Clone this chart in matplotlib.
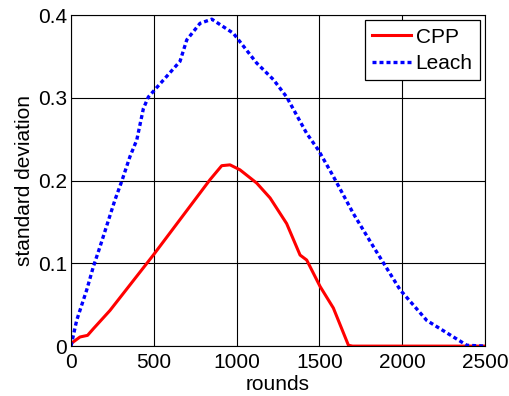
import numpy as np
import matplotlib
matplotlib.use("Agg")
import matplotlib.pyplot as plt

plt.rcParams['font.family'] = ['Liberation Sans', 'DejaVu Sans']

# CPP curve
cpp_x = [0, 54, 100, 135, 235, 497, 839, 910, 960, 1020, 1121, 1202, 1302, 1383, 1423, 1504, 1584, 1675, 1700, 2500]
cpp_y = [0.003, 0.011, 0.013, 0.021, 0.043, 0.110, 0.201, 0.218, 0.219, 0.213, 0.197, 0.179, 0.148, 0.110, 0.104, 0.072, 0.046, 0.001, 0.0, 0.0]

# Leach curve
leach_x = [0, 34, 95, 135, 175, 266, 306, 356, 397, 437, 467, 658, 699, 779, 850, 980,
           1121, 1222, 1302, 1423, 1493, 1584, 1705, 1826, 1987, 2148, 2390, 2500]
leach_y = [0.0, 0.031, 0.068, 0.096, 0.120, 0.177, 0.199, 0.229, 0.249, 0.287, 0.301, 0.344, 0.370, 0.390, 0.395, 0.378,
           0.342, 0.322, 0.301, 0.257, 0.237, 0.205, 0.160, 0.120, 0.068, 0.031, 0.001, 0.0]

fig = plt.figure(figsize=(5.09, 3.96), dpi=100)
ax = fig.add_axes([0.1395, 0.126, 0.8135, 0.836])

ax.plot(cpp_x, cpp_y, color='red', lw=2.2, label='CPP')
ax.plot(leach_x, leach_y, color='blue', lw=2.4, linestyle=(0, (1.2, 0.9)), label='Leach')

ax.set_xlim(0, 2500)
ax.set_ylim(0, 0.4)
ax.set_xticks([0, 500, 1000, 1500, 2000, 2500])
ax.set_yticks([0, 0.1, 0.2, 0.3, 0.4])
ax.set_yticklabels(['0', '0.1', '0.2', '0.3', '0.4'])
ax.grid(True, color='black', lw=0.8)
ax.tick_params(labelsize=15, direction='in', length=0)
ax.tick_params(axis='x', pad=5)
ax.tick_params(axis='y', pad=3)
ax.set_xlabel('rounds', fontsize=15, labelpad=2)
ax.set_ylabel('standard deviation', fontsize=15, labelpad=3)
for s in ax.spines.values():
    s.set_linewidth(0.8)

leg = ax.legend(loc='upper right', fontsize=15, fancybox=False, edgecolor='black',
                framealpha=1, handlelength=1.9, handletextpad=0.2, borderpad=0.35,
                borderaxespad=0.25, labelspacing=0.35)
leg.get_frame().set_linewidth(0.9)

fig.savefig('out.png', dpi=100)
